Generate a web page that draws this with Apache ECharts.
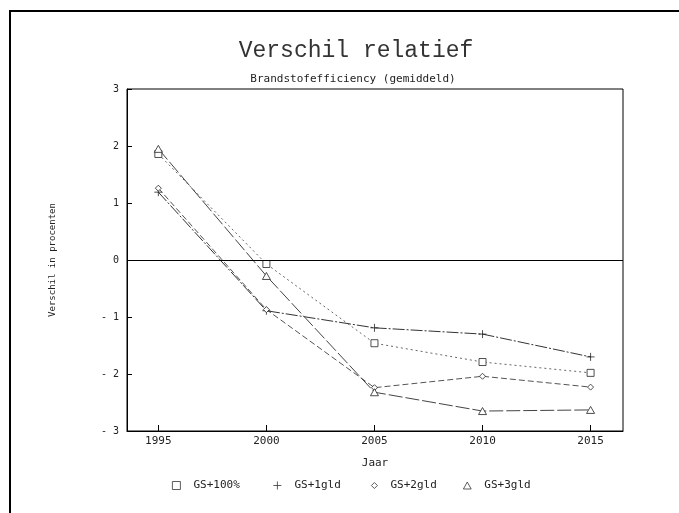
<!DOCTYPE html>
<html>
<head>
<meta charset="utf-8">
<script src="https://cdn.jsdelivr.net/npm/echarts@6/dist/echarts.min.js"></script>
<style>
  html, body { margin: 0; padding: 0; background: #fff; }
  #chart { width: 679px; height: 513px; }
</style>
</head>
<body>
<div id="chart"></div>
<script>
// Years on the x axis
const years = [1995, 2000, 2005, 2010, 2015];
const yearTicks = [1995, 2000, 2005, 2010, 2015];

// Relative difference in fuel efficiency (%) per scenario
const gs100 = [1.86, -0.07, -1.46, -1.79, -1.98];
const gs1gld = [1.19, -0.89, -1.19, -1.30, -1.70];
const gs2gld = [1.26, -0.87, -2.24, -2.04, -2.23];
const gs3gld = [1.95, -0.28, -2.32, -2.65, -2.63];

const seriesNames = ['GS+100%', 'GS+1gld', 'GS+2gld', 'GS+3gld'];

const FONT = '"DejaVu Sans Mono", "Liberation Mono", monospace';
const INK = '#222';

const plusPath = 'path://M5 0L5 10M0 5L10 5';
const trianglePath = 'path://M5 0L10 9L0 9Z';
const diamondPath = 'path://M5 0L10 5L5 10L0 5Z';

function pairs(vals) {
  return years.map((y, i) => [y, vals[i]]);
}

function makeSeries(name, vals, symbol, size, dash, color) {
  return {
    name: name,
    type: 'line',
    data: pairs(vals),
    symbol: symbol,
    symbolSize: size,
    showSymbol: true,
    animation: false,
    itemStyle: { color: '#fff', borderColor: '#222', borderWidth: 0.8 },
    lineStyle: { color: color, width: 1, type: dash },
    emphasis: { disabled: true },
    z: 3
  };
}

const series = [
  makeSeries(seriesNames[0], gs100, 'rect', [7, 7], [2, 3], '#666'),
  makeSeries(seriesNames[1], gs1gld, plusPath, [8, 8], [12, 2, 2, 2], '#333'),
  makeSeries(seriesNames[2], gs2gld, diamondPath, [6, 6], [6, 3], '#555'),
  makeSeries(seriesNames[3], gs3gld, trianglePath, [8, 7], [14, 3], '#444')
];

// Horizontal reference line at zero
series[0].markLine = {
  silent: true,
  symbol: 'none',
  animation: false,
  label: { show: false },
  lineStyle: { color: '#000', width: 1, type: 'solid' },
  data: [{ yAxis: 0 }]
};

const legendIcons = ['rect', plusPath, diamondPath, trianglePath];
const legendLeft = [167, 268, 366, 458];
const legendSizes = [[8, 8], [8, 8], [6, 6], [8, 7]];

const legends = seriesNames.map((n, i) => ({
  data: [{ name: n, icon: legendIcons[i] }],
  left: legendLeft[i],
  top: 475,
  itemWidth: legendSizes[i][0],
  itemHeight: legendSizes[i][1],
  selectedMode: false,
  itemStyle: { color: '#fff', borderColor: '#333', borderWidth: 0.8 },
  lineStyle: { width: 0 },
  textStyle: { fontFamily: FONT, fontSize: 11, color: INK, padding: [0, 0, 0, 8] }
}));

const chart = echarts.init(document.getElementById('chart'), null, { renderer: 'canvas' });

chart.setOption({
  backgroundColor: '#fff',
  animation: false,
  title: [
    {
      text: 'Verschil relatief',
      left: 351,
      textAlign: 'center',
      top: 34,
      textStyle: { fontFamily: '"Liberation Mono", "DejaVu Sans Mono", monospace', fontSize: 23, fontWeight: 'normal', color: '#333' }
    },
    {
      text: 'Brandstofefficiency (gemiddeld)',
      left: 348,
      textAlign: 'center',
      top: 69,
      textStyle: { fontFamily: FONT, fontSize: 11, fontWeight: 'normal', color: INK }
    }
  ],
  legend: legends,
  graphic: [
    {
      type: 'rect',
      shape: { x: 10, y: 11, width: 680, height: 520 },
      style: { fill: 'none', stroke: '#000', lineWidth: 2 },
      silent: true
    }
  ],
  grid: {
    left: 127,
    right: 56,
    top: 89,
    bottom: 82,
    show: true,
    borderColor: '#000',
    borderWidth: 1,
    backgroundColor: 'transparent'
  },
  xAxis: {
    type: 'value',
    min: 1993.55,
    max: 2016.5,
    name: 'Jaar',
    nameLocation: 'middle',
    nameGap: 27,
    nameTextStyle: { fontFamily: FONT, fontSize: 11, color: INK },
    axisLine: { show: true, onZero: false, lineStyle: { color: '#000', width: 1 } },
    axisTick: { show: true, inside: true, length: 6, lineStyle: { color: '#000' }, customValues: yearTicks },
    axisLabel: {
      fontFamily: FONT, fontSize: 11, color: INK, margin: 5,
      customValues: yearTicks,
      formatter: v => String(v)
    },
    splitLine: { show: false }
  },
  yAxis: {
    type: 'value',
    min: -3,
    max: 3,
    interval: 1,
    name: 'Verschil in procenten',
    nameLocation: 'middle',
    nameRotate: 90,
    nameGap: 70,
    nameTextStyle: { fontFamily: FONT, fontSize: 9, color: INK },
    axisLine: { show: true, onZero: false, lineStyle: { color: '#000', width: 1 } },
    axisTick: { show: true, inside: true, length: 5, lineStyle: { color: '#000' } },
    axisLabel: {
      fontFamily: FONT, fontSize: 10, color: INK, margin: 8,
      formatter: v => (v < 0 ? '- ' + (-v) : String(v))
    },
    splitLine: { show: false }
  },
  series: series
});
</script>
</body>
</html>
